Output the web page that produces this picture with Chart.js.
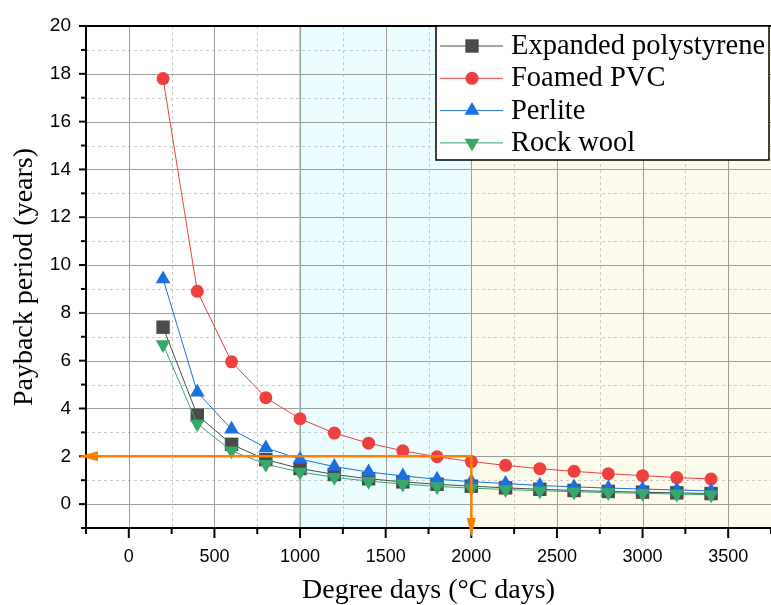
<!DOCTYPE html>
<html>
<head>
<meta charset="utf-8">
<title>Payback period vs degree days</title>
<script src="https://cdn.jsdelivr.net/npm/chart.js@4.4.1/dist/chart.umd.min.js"></script>
<style>
  html, body { margin: 0; padding: 0; background: #fff; overflow: hidden; }
  #wrap { width: 771px; height: 605px; }
  canvas { display: block; }
</style>
</head>
<body>
<div id="wrap"><canvas id="paybackChart"></canvas></div>
<script>
// ---- data ----
const degreeDays = [200, 400, 600, 800, 1000, 1200, 1400, 1600, 1800, 2000, 2200, 2400, 2600, 2800, 3000, 3200, 3400];
const expandedPolystyrene = [7.4, 3.72, 2.5, 1.86, 1.49, 1.24, 1.06, 0.93, 0.83, 0.75, 0.68, 0.62, 0.57, 0.53, 0.5, 0.47, 0.44];
const foamedPVC = [17.8, 8.9, 5.95, 4.45, 3.57, 2.97, 2.55, 2.23, 1.98, 1.78, 1.62, 1.48, 1.37, 1.27, 1.19, 1.11, 1.05];
const perlite = [9.42, 4.68, 3.13, 2.35, 1.88, 1.57, 1.34, 1.18, 1.04, 0.94, 0.86, 0.78, 0.72, 0.67, 0.63, 0.59, 0.55];
const rockWool = [6.68, 3.36, 2.23, 1.67, 1.34, 1.12, 0.96, 0.84, 0.74, 0.67, 0.61, 0.56, 0.52, 0.48, 0.45, 0.42, 0.39];

const xTickLabels = [0, 500, 1000, 1500, 2000, 2500, 3000, 3500];
const yTickLabels = [0, 2, 4, 6, 8, 10, 12, 14, 16, 18, 20];
const zoneEdges = [1000, 2000];      // cyan band, then cream band to the right
const targetPayback = 2;             // years
const targetDegreeDays = 2000;

const series = [
  { label: "Expanded polystyrene", data: expandedPolystyrene, color: "#4b4b4b", style: "rect", radius: 9.5, rotation: 0 },
  { label: "Foamed PVC", data: foamedPVC, color: "#ef4040", style: "circle", radius: 6.5, rotation: 0 },
  { label: "Perlite", data: perlite, color: "#1c6fe0", style: "triangle", radius: 8.5, rotation: 0 },
  { label: "Rock wool", data: rockWool, color: "#37a86b", style: "triangle", radius: 8.5, rotation: 180 },
];

const isMajorX = (v) => v % 500 === 0;
const isMajorY = (v) => v % 2 === 0;

// zones, grid and tick marks under the data
const backdrop = {
  id: "backdrop",
  beforeDraw(chart) {
    const { ctx, chartArea: a, scales: { x, y } } = chart;
    ctx.save();
    const z1 = x.getPixelForValue(zoneEdges[0]);
    const z2 = x.getPixelForValue(zoneEdges[1]);
    ctx.fillStyle = "#ebfdfe";
    ctx.fillRect(z1, a.top, z2 - z1, a.bottom - a.top);
    ctx.fillStyle = "#fcfaeb";
    ctx.fillRect(z2, a.top, a.right - z2, a.bottom - a.top);

    // minor dotted grid
    ctx.lineWidth = 1;
    ctx.strokeStyle = "#c9c9c9";
    ctx.setLineDash([3, 3]);
    x.ticks.forEach((t) => {
      if (isMajorX(t.value) || t.value <= x.min || t.value >= x.max) return;
      const p = Math.round(x.getPixelForValue(t.value)) + 0.5;
      ctx.beginPath(); ctx.moveTo(p, a.top); ctx.lineTo(p, a.bottom); ctx.stroke();
    });
    y.ticks.forEach((t) => {
      if (isMajorY(t.value) || t.value <= y.min || t.value >= y.max) return;
      const p = Math.round(y.getPixelForValue(t.value)) + 0.5;
      ctx.beginPath(); ctx.moveTo(a.left, p); ctx.lineTo(a.right, p); ctx.stroke();
    });

    // major solid grid
    ctx.setLineDash([]);
    ctx.strokeStyle = "#9d9d9d";
    x.ticks.forEach((t) => {
      if (!isMajorX(t.value)) return;
      const p = Math.round(x.getPixelForValue(t.value)) + 0.5;
      ctx.beginPath(); ctx.moveTo(p, a.top); ctx.lineTo(p, a.bottom); ctx.stroke();
    });
    y.ticks.forEach((t) => {
      if (!isMajorY(t.value) || t.value >= y.max) return;
      const p = Math.round(y.getPixelForValue(t.value)) + 0.5;
      ctx.beginPath(); ctx.moveTo(a.left, p); ctx.lineTo(a.right, p); ctx.stroke();
    });

    // edge of the cyan band
    ctx.strokeStyle = "rgba(150,170,170,0.6)";
    ctx.lineWidth = 2;
    ctx.beginPath(); ctx.moveTo(z1, a.top); ctx.lineTo(z1, a.bottom); ctx.stroke();

    // tick marks outside the axes
    ctx.strokeStyle = "#000";
    ctx.lineWidth = 2;
    x.ticks.forEach((t) => {
      const p = x.getPixelForValue(t.value);
      const len = isMajorX(t.value) ? 10 : 6;
      ctx.beginPath(); ctx.moveTo(p, a.bottom); ctx.lineTo(p, a.bottom + len); ctx.stroke();
    });
    y.ticks.forEach((t) => {
      const p = y.getPixelForValue(t.value);
      const len = isMajorY(t.value) ? 7 : 5;
      ctx.beginPath(); ctx.moveTo(a.left, p); ctx.lineTo(a.left - len, p); ctx.stroke();
    });

    // top frame line
    ctx.beginPath(); ctx.moveTo(a.left, a.top); ctx.lineTo(a.right, a.top); ctx.stroke();
    ctx.restore();
  },
};

// orange guide lines with arrows at 2 years / 2000 degree days
const guides = {
  id: "guides",
  afterDatasetsDraw(chart) {
    const { ctx, chartArea: a, scales: { x, y } } = chart;
    const gx = x.getPixelForValue(targetDegreeDays);
    const gy = y.getPixelForValue(targetPayback);
    ctx.save();
    ctx.strokeStyle = "#ff8000";
    ctx.fillStyle = "#ff8000";
    ctx.lineWidth = 2.5;
    ctx.beginPath();
    ctx.moveTo(a.left + 12, gy);
    ctx.lineTo(gx, gy);
    ctx.lineTo(gx, a.bottom - 10);
    ctx.stroke();
    // left arrow
    ctx.beginPath();
    ctx.moveTo(a.left - 7, gy);
    ctx.lineTo(a.left + 12, gy - 5);
    ctx.lineTo(a.left + 12, gy + 5);
    ctx.closePath();
    ctx.fill();
    // down arrow
    ctx.beginPath();
    ctx.moveTo(gx, a.bottom + 9);
    ctx.lineTo(gx - 4.5, a.bottom - 10);
    ctx.lineTo(gx + 4.5, a.bottom - 10);
    ctx.closePath();
    ctx.fill();
    ctx.restore();
  },
};

// boxed legend in the top-right corner
const boxLegend = {
  id: "boxLegend",
  afterDraw(chart) {
    const { ctx, chartArea: a } = chart;
    const left = 436, top = a.top, right = 769, rowH = 32.3;
    ctx.save();
    ctx.fillStyle = "#fff";
    ctx.fillRect(left, top, right - left, 134);
    ctx.strokeStyle = "#000";
    ctx.lineWidth = 1.5;
    ctx.strokeRect(left, top, right - left, 134);
    ctx.font = "28.5px 'Liberation Serif', 'Times New Roman', serif";
    ctx.textBaseline = "alphabetic";
    series.forEach((s, i) => {
      const cy = top + 20 + i * rowH;
      ctx.strokeStyle = s.color;
      ctx.lineWidth = 1;
      ctx.beginPath(); ctx.moveTo(440, cy); ctx.lineTo(503, cy); ctx.stroke();
      ctx.fillStyle = s.color;
      Chart.helpers.drawPoint(ctx, { pointStyle: s.style, radius: s.radius, rotation: s.rotation, borderWidth: 0 }, 472, cy);
      ctx.fillStyle = "#000";
      ctx.fillText(s.label, 511, cy + 8);
    });
    ctx.restore();
  },
};

Chart.defaults.font.family = "'Liberation Sans', Arial, sans-serif";
Chart.defaults.color = "#000";

new Chart(document.getElementById("paybackChart"), {
  type: "line",
  data: {
    datasets: series.map((s, i) => ({
      label: s.label,
      data: degreeDays.map((d, k) => ({ x: d, y: s.data[k] })),
      borderColor: s.color,
      backgroundColor: s.color,
      borderWidth: 1,
      tension: 0,
      pointStyle: s.style,
      pointRadius: s.radius,
      pointRotation: s.rotation,
      pointBorderWidth: 0,
      pointBackgroundColor: s.color,
      order: series.length - i,
    })),
  },
  options: {
    responsive: true,
    maintainAspectRatio: false,
    animation: false,
    layout: { autoPadding: false, padding: { top: 26, right: 0, left: 0, bottom: 0 } },
    plugins: {
      legend: { display: false },
      tooltip: { enabled: false },
    },
    scales: {
      x: {
        type: "linear",
        min: -250,
        max: 3750,
        afterFit: (scale) => {
          scale.height = 77;
          scale.paddingLeft = 0;
          scale.paddingRight = 0;
        },
        ticks: {
          stepSize: 250,
          autoSkip: false,
          maxRotation: 0,
          padding: 18,
          font: { family: "'Liberation Sans Narrow', 'Liberation Sans', Arial, sans-serif", size: 18 },
          callback: (v) => (xTickLabels.includes(v) ? String(v) : ""),
        },
        grid: { display: false, drawTicks: false },
        border: { display: true, color: "#000", width: 2 },
        title: {
          display: true,
          text: "Degree days (°C days)",
          font: { family: "'Liberation Serif', 'Times New Roman', serif", size: 28 },
          padding: { top: 0, bottom: -2 },
        },
      },
      y: {
        type: "linear",
        min: -1,
        max: 20,
        afterFit: (scale) => {
          scale.width = 86;
          scale.paddingTop = 0;
          scale.paddingBottom = 0;
        },
        ticks: {
          stepSize: 1,
          autoSkip: false,
          padding: 15,
          font: { size: 19 },
          callback: (v) => (yTickLabels.includes(v) ? String(v) : ""),
        },
        grid: { display: false, drawTicks: false },
        border: { display: true, color: "#000", width: 2 },
        title: {
          display: true,
          text: "Payback period (years)",
          font: { family: "'Liberation Serif', 'Times New Roman', serif", size: 28 },
          padding: { top: 8, bottom: 0 },
        },
      },
    },
  },
  plugins: [backdrop, guides, boxLegend],
});
</script>
</body>
</html>
